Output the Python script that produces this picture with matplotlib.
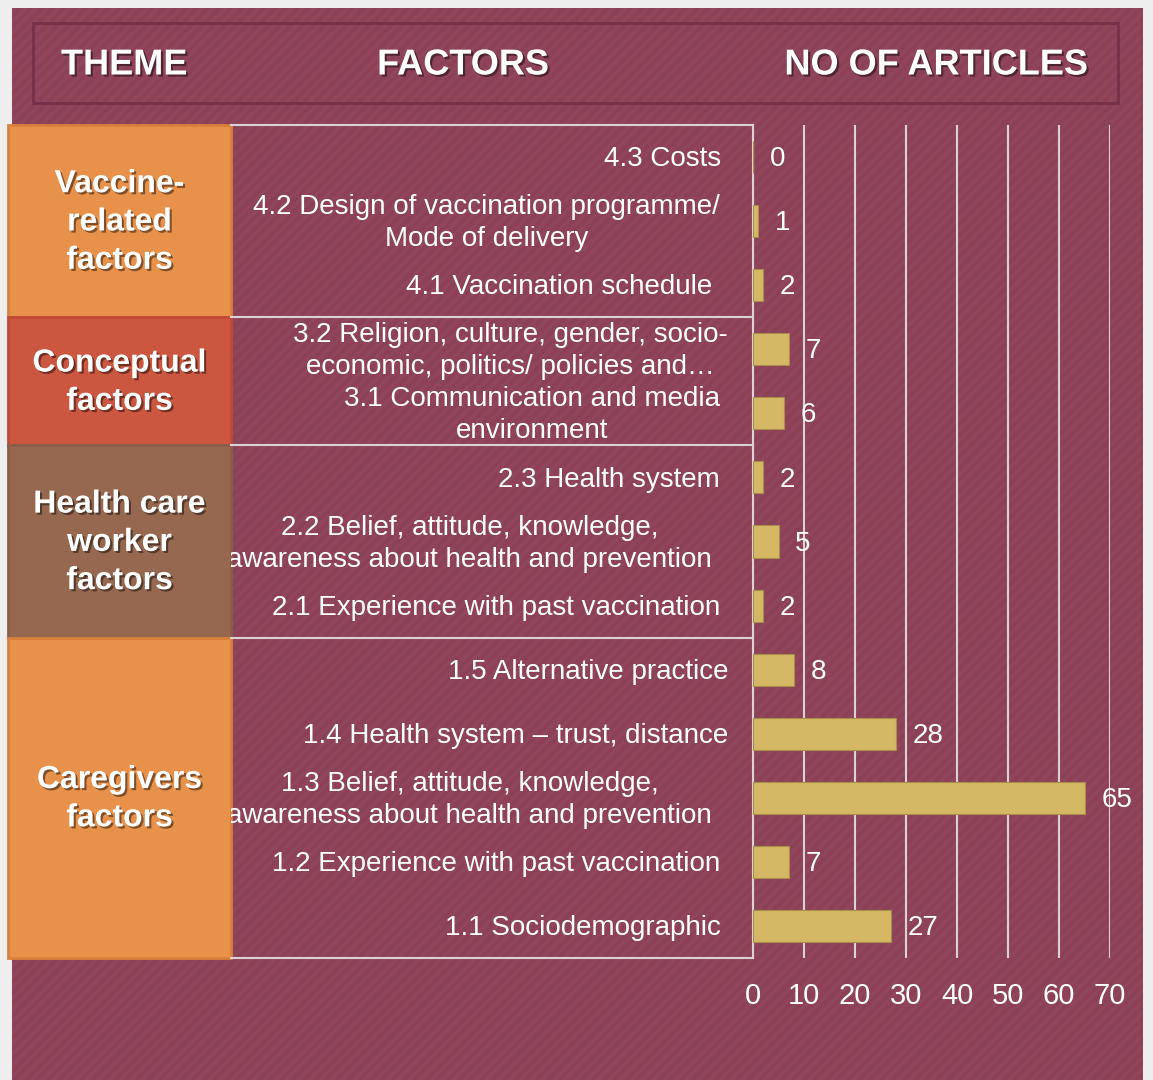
import matplotlib
matplotlib.use('Agg')
import matplotlib.pyplot as plt
import matplotlib.patheffects as pe
from matplotlib.patches import Rectangle

plt.rcParams['font.family'] = ['Liberation Sans', 'DejaVu Sans']
plt.rcParams['hatch.linewidth'] = 2.5

# data
factors = [
    '4.3 Costs',
    '4.2 Design of vaccination programme/\nMode of delivery',
    '4.1 Vaccination schedule',
    '3.2 Religion, culture, gender, socio-\neconomic, politics/ policies and\u2026',
    '3.1 Communication and media\nenvironment',
    '2.3 Health system',
    '2.2 Belief, attitude, knowledge,\nawareness about health and prevention',
    '2.1 Experience with past vaccination',
    '1.5 Alternative practice',
    '1.4 Health system \u2013 trust, distance',
    '1.3 Belief, attitude, knowledge,\nawareness about health and prevention',
    '1.2 Experience with past vaccination',
    '1.1 Sociodemographic',
]
articles = [0, 1, 2, 7, 6, 2, 5, 2, 8, 28, 65, 7, 27]
themes = ['Vaccine-\nrelated\nfactors', 'Conceptual\nfactors',
          'Health care\nworker\nfactors', 'Caregivers\nfactors']
theme_sizes = [3, 2, 3, 5]
theme_colors = ['#E8914B', '#CB5740', '#96684F', '#E8914B']
theme_edges = ['#D9803A', '#C04A35', '#8A5E47', '#D9803A']
ticks = [0, 10, 20, 30, 40, 50, 60, 70]

# right edge (px) of each factor label
label_right = [721, 720, 712, 728, 720, 720, 712, 720, 728, 728, 712, 720, 721]

W, H = 1153, 1080
maroon = '#8C4157'
line_c = '#DCD2D5'
shadow = [pe.withSimplePatchShadow(offset=(1.5, -1.5), shadow_rgbFace='black', alpha=0.45)]

fig = plt.figure(figsize=(W / 100, H / 100), dpi=100)
fig.patch.set_facecolor('#EEEEEE')

def px_axes(x0, y0, x1, y1):
    return fig.add_axes([x0 / W, 1 - y1 / H, (x1 - x0) / W, (y1 - y0) / H])

# background panel
bg = px_axes(0, 0, W, H)
bg.set_xlim(0, W)
bg.set_ylim(H, 0)
bg.axis('off')
bg.add_patch(Rectangle((12, 8), 1131, 1080, facecolor=maroon, edgecolor='none'))
bg.add_patch(Rectangle((12, 8), 1131, 1080, facecolor='none', hatch='///',
                       edgecolor=(1, 1, 1, 0.03), lw=0))
bg.add_patch(Rectangle((33, 23), 1085, 80, facecolor='none', edgecolor='#76304A', lw=2))
for txt, x in [('THEME', 124), ('FACTORS', 463), ('NO OF ARTICLES', 936)]:
    bg.text(x, 65, txt, ha='center', va='center', color='white', fontsize=26,
            fontweight='bold', path_effects=shadow)

n = len(factors)
top, bottom = 125, 958

# theme boxes
th = px_axes(8, top, 231, bottom)
th.set_xlim(0, 1)
th.set_ylim(n - 0.5, -0.5)
th.axis('off')
start = 0
for name, size, fc, ec in zip(themes, theme_sizes, theme_colors, theme_edges):
    th.add_patch(Rectangle((0, start - 0.5), 1, size, facecolor=fc, edgecolor=ec,
                           lw=2, clip_on=False))
    th.annotate(name, (0.5, start - 0.5 + size / 2), xytext=(0, -1),
                textcoords='offset points', ha='center', va='center',
                color='white', fontsize=23, fontweight='bold', linespacing=1.36,
                path_effects=shadow)
    start += size

# factor labels
fa = px_axes(231, top, 753, bottom)
fa.set_xlim(231, 753)
fa.set_ylim(n - 0.5, -0.5)
fa.axis('off')
for i, (lab, xr) in enumerate(zip(factors, label_right)):
    fa.annotate(lab, (xr, i), xytext=(0, -1.5), textcoords='offset points',
                ha='right', va='center', multialignment='center',
                color='white', fontsize=20, linespacing=1.3, annotation_clip=False,
                clip_on=True)
b = -0.5
fa.axhline(b, color=line_c, lw=1.5, clip_on=False)
for size in theme_sizes:
    b += size
    fa.axhline(b, color=line_c, lw=1.5, clip_on=False)
fa.axvline(753, color=line_c, lw=1.5, clip_on=False)

# bars
ax = px_axes(753, top, 1110, bottom)
ax.set_facecolor('none')
ax.set_xlim(0, 70)
ax.set_ylim(n - 0.5, -0.5)
ax.barh(range(n), articles, height=0.5, color='#D5B866', edgecolor='#A88E48', lw=0.8)
for i, v in enumerate(articles):
    ax.annotate(str(v), (v, i), xytext=(12, -1.5), textcoords='offset points',
                ha='left', va='center', color='white', fontsize=20)
ax.set_xticks(ticks)
ax.set_yticks([])
ax.xaxis.grid(True, color=line_c, lw=1.5)
ax.set_axisbelow(True)
ax.tick_params(axis='x', length=0, pad=17, labelsize=21, labelcolor='white')
for s in ax.spines.values():
    s.set_visible(False)

fig.savefig('out.png', dpi=100, facecolor=fig.get_facecolor())
